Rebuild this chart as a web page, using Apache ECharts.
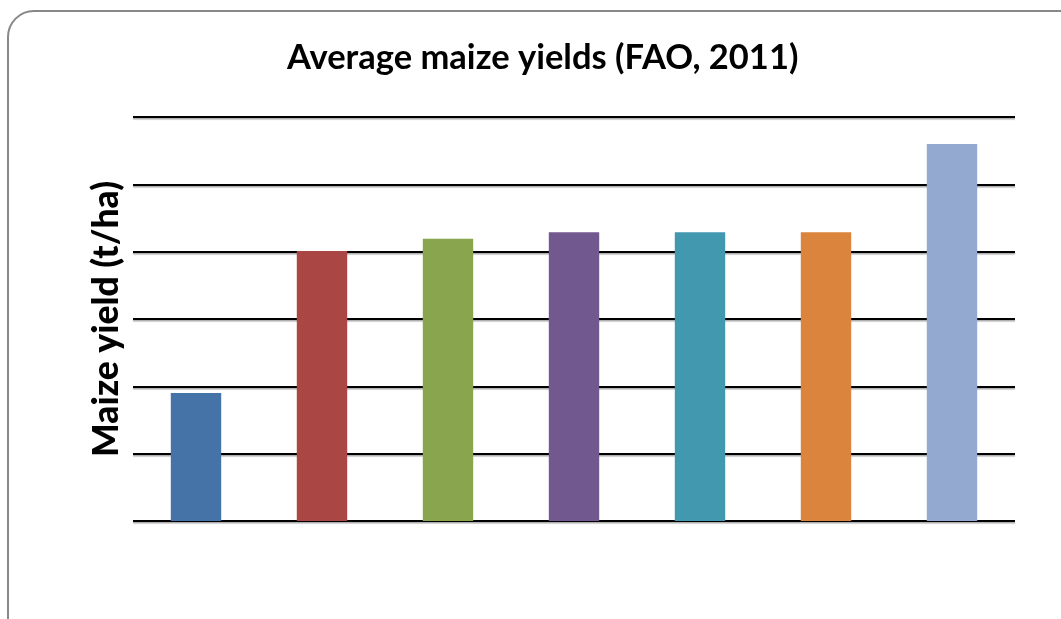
<!DOCTYPE html>
<html>
<head>
<meta charset="utf-8">
<script src="https://cdn.jsdelivr.net/npm/echarts@6/dist/echarts.min.js"></script>
<style>
  html, body { margin: 0; padding: 0; background: #fff; }
  #bar { width: 1061px; height: 619px; }
</style>
</head>
<body>
<div id="bar"></div>
<script>
// 数据（图中无类别标签，只保留顺序）
var categories = ['1', '2', '3', '4', '5', '6', '7'];
var yields = [1.90, 4.01, 4.19, 4.29, 4.29, 4.29, 5.60];
var barColors = ['#4572A7', '#AA4643', '#89A54E', '#71588F', '#4198AF', '#DB843D', '#93A9CF'];

var myChart = echarts.init(document.getElementById('bar'));

var option = {
  backgroundColor: '#fff',
  animation: false,
  graphic: [{
    type: 'rect',
    shape: { x: 8, y: 11, width: 1090, height: 640, r: 26 },
    style: { fill: 'none', stroke: '#888', lineWidth: 2 }
  }],
  title: {
    text: 'Average maize yields (FAO, 2011)',
    left: 282,
    top: 35,
    textStyle: { fontFamily: 'Lato', fontWeight: 'bold', fontSize: 34.5, color: '#000' }
  },
  grid: { left: 133, right: 46, top: 117, bottom: 98 },
  xAxis: {
    type: 'category',
    data: categories,
    axisLine: { show: false },
    axisTick: { show: false },
    axisLabel: { show: false }
  },
  yAxis: {
    type: 'value',
    min: 0,
    max: 6,
    interval: 1,
    name: 'Maize yield (t/ha)',
    nameLocation: 'middle',
    nameGap: 8,
    nameTextStyle: { fontFamily: 'Lato', fontWeight: 900, fontSize: 35.5, color: '#000' },
    axisLine: { show: false },
    axisTick: { show: false },
    axisLabel: { show: false },
    splitLine: {
      lineStyle: { color: '#000', width: 2, shadowColor: 'rgba(0,0,0,0.35)', shadowOffsetY: 1.5, shadowBlur: 1 }
    }
  },
  series: [{
    type: 'bar',
    barWidth: '40%',
    data: yields.map(function (v, i) {
      return { value: v, itemStyle: { color: barColors[i] } };
    })
  }]
};

myChart.setOption(option);
</script>
</body>
</html>
